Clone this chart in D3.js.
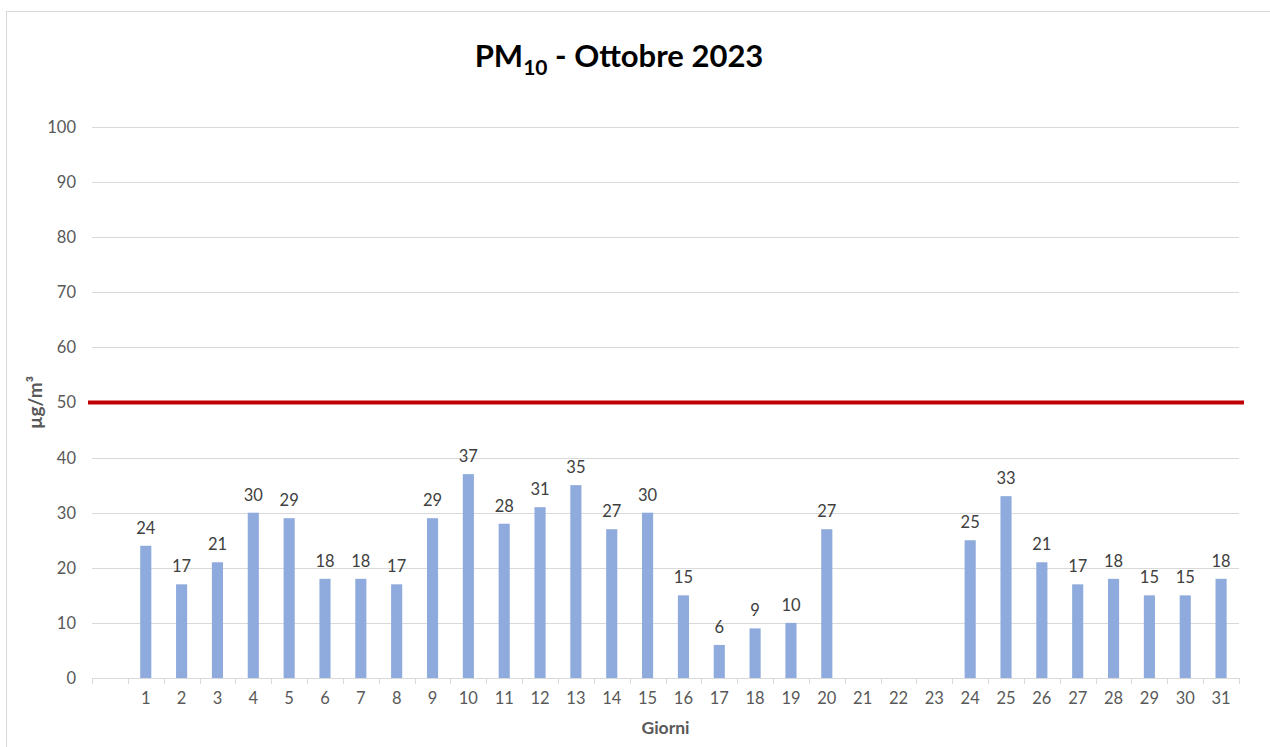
<!DOCTYPE html>
<html>
<head>
<meta charset="utf-8">
<script src="https://cdn.jsdelivr.net/npm/d3@7.9.0/dist/d3.min.js"></script>
<style>
  body { margin: 0; background: #fff; }
  text { font-family: Lato, "Open Sans", sans-serif; }
</style>
</head>
<body>
<div id="chart"></div>
<script>
// giorni di ottobre (first slot is empty, as in the original sheet)
const days = ["", "1", "2", "3", "4", "5", "6", "7", "8", "9", "10", "11", "12", "13", "14", "15",
  "16", "17", "18", "19", "20", "21", "22", "23", "24", "25", "26", "27", "28", "29", "30", "31"];
const pm10 = [null, 24, 17, 21, 30, 29, 18, 18, 17, 29, 37, 28, 31, 35, 27, 30,
  15, 6, 9, 10, 27, null, null, null, 25, 33, 21, 17, 18, 15, 15, 18];
const limit = [50, 50];
const yTicks = [0, 10, 20, 30, 40, 50, 60, 70, 80, 90, 100];

const width = 1270, height = 747;
const margin = { left: 92, right: 31, top: 127, bottom: 69 };

const svg = d3.select("#chart").append("svg")
  .attr("width", width)
  .attr("height", height);

// chart frame
svg.append("rect")
  .attr("x", 6.5).attr("y", 11.5)
  .attr("width", width + 10).attr("height", height)
  .attr("fill", "none")
  .attr("stroke", "#d9d9d9");

const x = d3.scaleBand()
  .domain(days)
  .range([margin.left, width - margin.right])
  .paddingInner(0.69)
  .paddingOuter(0.345);

const y = d3.scaleLinear()
  .domain([0, 100])
  .range([height - margin.bottom, margin.top]);

// gridlines
svg.append("g")
  .selectAll("line")
  .data(yTicks.slice(1))
  .join("line")
  .attr("x1", margin.left).attr("x2", width - margin.right)
  .attr("y1", d => Math.round(y(d)) + 0.5).attr("y2", d => Math.round(y(d)) + 0.5)
  .attr("stroke", "#d9d9d9");

// y axis labels
svg.append("g")
  .selectAll("text")
  .data(yTicks)
  .join("text")
  .attr("x", 76)
  .attr("y", d => y(d))
  .attr("dy", "0.36em")
  .attr("text-anchor", "end")
  .attr("font-size", 16.5)
  .attr("fill", "#595959")
  .text(d => d);

// x axis
const xAxis = svg.append("g");
xAxis.append("line")
  .attr("x1", margin.left).attr("x2", width - margin.right)
  .attr("y1", Math.round(y(0)) + 0.5).attr("y2", Math.round(y(0)) + 0.5)
  .attr("stroke", "#d9d9d9");

const step = x.step();
const bounds = d3.range(days.length + 1).map(i => margin.left + i * step);
xAxis.selectAll(".tick")
  .data(bounds)
  .join("line")
  .attr("class", "tick")
  .attr("x1", d => Math.round(d) + 0.5).attr("x2", d => Math.round(d) + 0.5)
  .attr("y1", y(0)).attr("y2", y(0) + 6)
  .attr("stroke", "#d9d9d9");

xAxis.selectAll(".lbl")
  .data(days)
  .join("text")
  .attr("class", "lbl")
  .attr("x", d => x(d) + x.bandwidth() / 2)
  .attr("y", y(0) + 26)
  .attr("text-anchor", "middle")
  .attr("font-size", 16.5)
  .attr("fill", "#595959")
  .text(d => d);

// bars
const bars = days.map((d, i) => ({ day: d, value: pm10[i] })).filter(d => d.value != null);

svg.append("g")
  .selectAll("rect")
  .data(bars)
  .join("rect")
  .attr("x", d => x(d.day))
  .attr("width", x.bandwidth())
  .attr("y", d => y(d.value))
  .attr("height", d => y(0) - y(d.value))
  .attr("fill", "#8faadc");

svg.append("g")
  .selectAll("text")
  .data(bars)
  .join("text")
  .attr("x", d => x(d.day) + x.bandwidth() / 2)
  .attr("y", d => y(d.value) - 12)
  .attr("text-anchor", "middle")
  .attr("font-size", 16.5)
  .attr("fill", "#404040")
  .text(d => d.value);

// limite giornaliero 50
const lx = d3.scaleLinear().domain([0, limit.length - 1]).range([margin.left - 4, width - margin.right + 5]);
svg.append("path")
  .datum(limit)
  .attr("d", d3.line().x((d, i) => lx(i)).y(d => y(d)))
  .attr("fill", "none")
  .attr("stroke", "#c00000")
  .attr("stroke-width", 4);

// title
const title = svg.append("text")
  .attr("x", 619)
  .attr("y", 67)
  .attr("text-anchor", "middle")
  .attr("font-size", 31)
  .attr("font-weight", "bold")
  .attr("fill", "#000");
title.append("tspan").text("PM");
title.append("tspan").attr("font-size", 21).attr("dy", 8).text("10");
title.append("tspan").attr("dy", -8).text(" - Ottobre 2023");

// axis titles
svg.append("text")
  .attr("transform", `translate(42, ${(y(0) + y(100)) / 2}) rotate(-90)`)
  .attr("text-anchor", "middle")
  .attr("font-size", 19)
  .attr("font-weight", "bold")
  .attr("fill", "#595959")
  .text("µg/m³");

svg.append("text")
  .attr("x", (margin.left + width - margin.right) / 2)
  .attr("y", 734)
  .attr("text-anchor", "middle")
  .attr("font-size", 17.5)
  .attr("font-weight", "bold")
  .attr("fill", "#595959")
  .text("Giorni");
</script>
</body>
</html>
